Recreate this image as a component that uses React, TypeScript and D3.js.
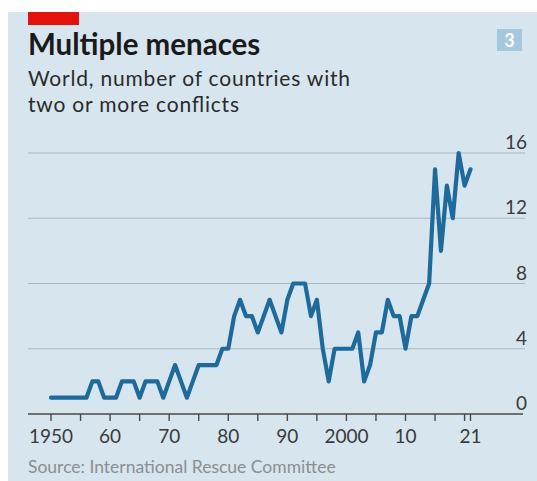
import React from "react";
import * as d3 from "d3";

const years: number[] = d3.range(1950, 2022);
const values: number[] = [
  1, 1, 1, 1, 1, 1, 1, 2, 2, 1, // 1950-59
  1, 1, 2, 2, 2, 1, 2, 2, 2, 1, // 1960-69
  2, 3, 2, 1, 2, 3, 3, 3, 3, 4, // 1970-79
  4, 6, 7, 6, 6, 5, 6, 7, 6, 5, // 1980-89
  7, 8, 8, 8, 6, 7, 4, 2, 4, 4, // 1990-99
  4, 4, 5, 2, 3, 5, 5, 7, 6, 6, // 2000-09
  4, 6, 6, 7, 8, 15, 10, 14, 12, 16, // 2010-19
  14, 15, // 2020-21
];
const yTicks: number[] = [0, 4, 8, 12, 16];
const xTicks: number[] = [...d3.range(1950, 2021, 5), 2021];
const xLabelYears: number[] = [1950, 1960, 1970, 1980, 1990, 2000, 2010, 2021];
const xLabelText: string[] = ["1950", "60", "70", "80", "90", "2000", "10", "21"];

const title = "Multiple menaces";
const subtitle = ["World, number of countries with", "two or more conflicts"];
const subtitleWidths = [322, 211];
const source = "Source: International Rescue Committee";

const FONT = "Lato, 'Open Sans', sans-serif";

export default function App() {
  const W = 537;
  const H = 481;
  const x = d3.scaleLinear().domain([1950, 2021]).range([51, 470.5]);
  const y = d3.scaleLinear().domain([0, 16]).range([414, 153]);
  const line = d3
    .line<number>()
    .x((_, i) => x(years[i]))
    .y((d) => y(d));
  const gridX0 = 28;
  const gridX1 = 525;

  return (
    <svg
      width={W}
      height={H}
      style={{ position: "absolute", left: 0, top: 0 }}
      fontFamily={FONT}
    >
      <rect x={0} y={0} width={W} height={H} fill="#ffffff" />
      <rect x={8} y={12} width={W - 8} height={H - 12} fill="#d6e5ee" />
      <rect x={28} y={12} width={51} height={13} fill="#e3120b" />
      <rect x={497} y={29} width={25} height={22} fill="#a6c8de" />
      <text x={509.5} y={46.5} textAnchor="middle" fontSize={18} fontWeight={700} fill="#ffffff">
        3
      </text>
      <text x={28} y={55} fontSize={29.5} fontWeight={700} fill="#1a1a1a">
        {title}
      </text>
      {subtitle.map((s, i) => (
        <text
          key={i}
          x={28}
          y={86 + i * 25.5}
          fontSize={21}
          fill="#2b2b2b"
          textLength={subtitleWidths[i]}
          lengthAdjust="spacing"
        >
          {s}
        </text>
      ))}
      {yTicks
        .filter((t) => t !== 0)
        .map((t) => (
          <line key={t} x1={gridX0} x2={gridX1} y1={y(t)} y2={y(t)} stroke="#a9b6bf" strokeWidth={1.2} />
        ))}
      {yTicks.map((t) => (
        <text key={t} x={527} y={y(t) - 4} textAnchor="end" fontSize={19} fill="#3b3b3b">
          {t}
        </text>
      ))}
      <line x1={gridX0} x2={523} y1={y(0)} y2={y(0)} stroke="#4a4a4a" strokeWidth={1.6} />
      {xTicks.map((t) => (
        <line key={t} x1={x(t)} x2={x(t)} y1={y(0)} y2={y(0) + 7} stroke="#4a4a4a" strokeWidth={1.4} />
      ))}
      {xLabelYears.map((t, i) => (
        <text key={t} x={x(t)} y={443} textAnchor="middle" fontSize={19} fill="#3b3b3b">
          {xLabelText[i]}
        </text>
      ))}
      <path
        d={line(values) || ""}
        fill="none"
        stroke="#1d6a9b"
        strokeWidth={4.2}
        strokeLinejoin="round"
        strokeLinecap="round"
      />
      <text x={28} y={473} fontSize={17.5} fill="#8a8f93">
        {source}
      </text>
    </svg>
  );
}
